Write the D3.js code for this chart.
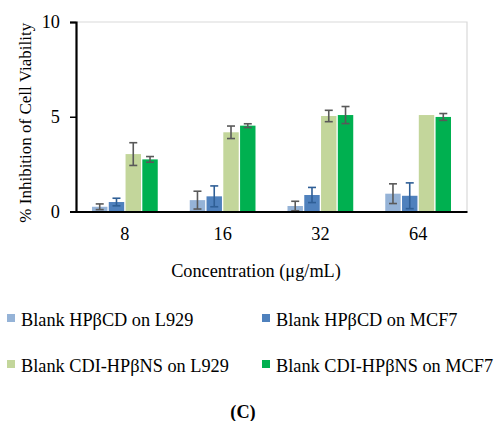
<!DOCTYPE html>
<html>
<head>
<meta charset="utf-8">
<script src="https://cdn.jsdelivr.net/npm/d3@7"></script>
</head>
<body style="margin:0;background:#fff">
<div id="canvas"></div>
<script>
var categories = ['8', '16', '32', '64'];
var seriesNames = ['Blank HP\u03B2CD on L929', 'Blank HP\u03B2CD on MCF7',
                   'Blank CDI-HP\u03B2NS on L929', 'Blank CDI-HP\u03B2NS on MCF7'];
var colors = ['#95b3d7', '#4f81bd', '#c3d69b', '#00b050'];
var errColors = ['#595959', '#2f5f96', '#595959', '#595959'];

var hpcdL929 = [0.25, 0.6, 0.29, 0.94];
var hpcdMCF7 = [0.5, 0.8, 0.87, 0.83];
var nsL929 = [3.03, 4.18, 5.04, 5.09];
var nsMCF7 = [2.75, 4.53, 5.09, 4.99];

var errHpcdL929 = [0.15, 0.47, 0.25, 0.52];
var errHpcdMCF7 = [0.2, 0.55, 0.4, 0.68];
var errNsL929 = [0.6, 0.33, 0.3, 0];
var errNsMCF7 = [0.15, 0.1, 0.45, 0.18];

var yTicks = [0, 5, 10];

var values = [hpcdL929, hpcdMCF7, nsL929, nsMCF7];
var errors = [errHpcdL929, errHpcdMCF7, errNsL929, errNsMCF7];

var FONT = "font-family:'Liberation Serif';font-size:18.3px";

var W = 497, H = 421;
var m = {t: 22, r: 30, l: 76};
var w = W - m.l - m.r, h = 211.5 - m.t;

var svg = d3.select('#canvas').append('svg')
    .attr('width', W).attr('height', H)
    .attr('font-family', 'Liberation Serif');

var plot = svg.append('g')
    .attr('transform', 'translate(' + m.l + ',' + m.t + ')');

var x = d3.scaleBand().domain(categories).range([0, w]).paddingInner(0.3).paddingOuter(0.15);
var xs = d3.scaleBand().domain(d3.range(4)).range([0, x.bandwidth()]).padding(0.08);
var y = d3.scaleLinear().domain([0, 10]).range([h, 0]);

// plot area border (top and right)
plot.append('path')
    .attr('d', 'M0,0H' + w + 'V' + h)
    .attr('fill', 'none').attr('stroke', '#d9d9d9').attr('stroke-width', 1.2);

var rows = [];
categories.forEach(function(c, i) {
  values.forEach(function(s, k) {
    rows.push({cat: c, k: k, v: s[i], e: errors[k][i]});
  });
});

plot.selectAll('.bar')
    .data(rows).enter()
    .append('rect')
    .attr('class', 'bar')
    .attr('x', function(d) { return x(d.cat) + xs(d.k); })
    .attr('width', xs.bandwidth())
    .attr('y', function(d) { return y(d.v); })
    .attr('height', function(d) { return h - y(d.v); })
    .attr('fill', function(d) { return colors[d.k]; });

var eb = plot.selectAll('.err')
    .data(rows.filter(function(d) { return d.e > 0; })).enter()
    .append('g').attr('class', 'err')
    .attr('stroke', function(d) { return errColors[d.k]; })
    .attr('stroke-width', 1.6);

function cx(d) { return x(d.cat) + xs(d.k) + xs.bandwidth() / 2; }

eb.append('line')
    .attr('x1', cx).attr('x2', cx)
    .attr('y1', function(d) { return y(d.v + d.e); })
    .attr('y2', function(d) { return y(Math.max(0, d.v - d.e)); });
[1, -1].forEach(function(sgn) {
  eb.append('line')
      .attr('x1', function(d) { return cx(d) - 4; })
      .attr('x2', function(d) { return cx(d) + 4; })
      .attr('y1', function(d) { return y(Math.max(0, d.v + sgn * d.e)); })
      .attr('y2', function(d) { return y(Math.max(0, d.v + sgn * d.e)); });
});

// axes
var yAxis = plot.append('g')
    .call(d3.axisLeft(y).tickValues(yTicks).tickSize(6).tickPadding(10));
yAxis.select('.domain').attr('stroke', '#000').attr('stroke-width', 2.2);
yAxis.selectAll('.tick line').attr('stroke', '#000').attr('stroke-width', 1.5);
yAxis.selectAll('.tick text').attr('style', FONT).attr('fill', '#000');

var xAxis = plot.append('g')
    .attr('transform', 'translate(0,' + h + ')')
    .call(d3.axisBottom(x).tickSize(0).tickPadding(16));
xAxis.select('.domain').attr('stroke', '#000').attr('stroke-width', 2.2);
xAxis.selectAll('.tick text').attr('style', FONT).attr('fill', '#000');

// titles
svg.append('text')
    .attr('transform', 'translate(31,' + (m.t + h / 2 + 6) + ') rotate(-90)')
    .attr('text-anchor', 'middle')
    .attr('style', "font-family:'Liberation Serif';font-size:17px")
    .text('% Inhibition of Cell Viability');

svg.append('text')
    .attr('x', 256).attr('y', 277)
    .attr('text-anchor', 'middle')
    .attr('style', FONT)
    .text('Concentration (\u03BCg/mL)');

// legend
var legPos = [[7, 326], [262, 326], [7, 372], [262, 372]];
var leg = svg.selectAll('.leg')
    .data(seriesNames).enter()
    .append('g').attr('class', 'leg')
    .attr('transform', function(d, i) { return 'translate(' + legPos[i][0] + ',' + legPos[i][1] + ')'; });
leg.append('rect')
    .attr('x', 0).attr('y', -12).attr('width', 8).attr('height', 8)
    .attr('fill', function(d, i) { return colors[i]; });
leg.append('text')
    .attr('x', 14).attr('y', 0)
    .attr('style', FONT)
    .text(function(d) { return d; });

svg.append('text')
    .attr('x', 243).attr('y', 418)
    .attr('text-anchor', 'middle')
    .attr('style', FONT + ';font-weight:bold')
    .text('(C)');
</script>
</body>
</html>
